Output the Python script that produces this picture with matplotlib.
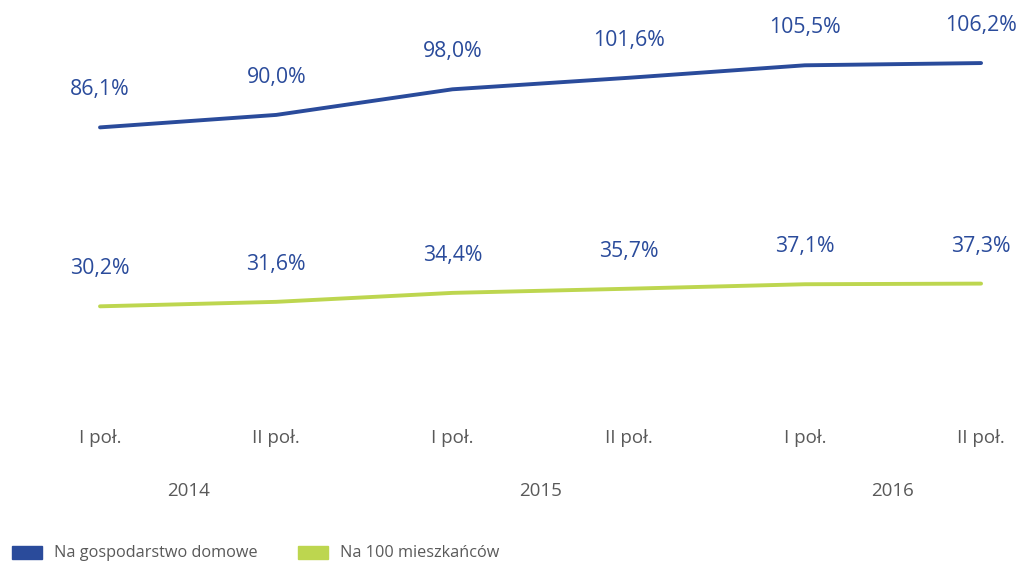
import numpy as np
import matplotlib.pyplot as plt
from matplotlib.patches import Rectangle
from matplotlib.transforms import blended_transform_factory

# data
periods = ['I poł.', 'II poł.', 'I poł.', 'II poł.', 'I poł.', 'II poł.']
years = ['2014', '2015', '2016']
household = [86.1, 90.0, 98.0, 101.6, 105.5, 106.2]
per_100 = [30.2, 31.6, 34.4, 35.7, 37.1, 37.3]

blue = '#2a4b9b'
green = '#bdd64f'
gray = '#595959'

plt.rcParams['font.family'] = ['Open Sans', 'DejaVu Sans']

fig = plt.figure(figsize=(10.23, 5.66), dpi=100)
ax = fig.add_axes([0, 0.288, 1, 0.712])
x = np.arange(len(periods))

ax.plot(x, household, color=blue, lw=2.8, solid_capstyle='round')
ax.plot(x, per_100, color=green, lw=2.8, solid_capstyle='round')

def fmt(v):
    return f'{v:.1f}%'.replace('.', ',')

for xi, v in zip(x, household):
    ax.annotate(fmt(v), (xi, v), xytext=(0, 27), textcoords='offset points',
                ha='center', va='center', fontsize=15.3, color=blue)
for xi, v in zip(x, per_100):
    ax.annotate(fmt(v), (xi, v), xytext=(0, 27), textcoords='offset points',
                ha='center', va='center', fontsize=15.3, color=blue)

ax.set_xlim(-0.5675, 5.238)
ax.set_ylim(0, 125.9)
ax.axis('off')

trans = blended_transform_factory(ax.transData, fig.transFigure)
for xi, p in zip(x, periods):
    ax.text(xi, 1 - 438 / 566, p, transform=trans, ha='center', va='center',
            fontsize=13.5, color=gray)
for i, y in enumerate(years):
    ax.text(2 * i + 0.5, 1 - 491 / 566, y, transform=trans, ha='center', va='center',
            fontsize=13.5, color=gray)

# legend
W, H = 1023, 566
for px, col, lab in [(12, blue, 'Na gospodarstwo domowe'), (298, green, 'Na 100 mieszkańców')]:
    fig.add_artist(Rectangle((px / W, 1 - 559 / H), 30 / W, 13 / H,
                             transform=fig.transFigure, color=col))
    fig.text((px + 42) / W, 1 - 553 / H, lab, ha='left', va='center',
             fontsize=11.7, color=gray)

fig.savefig('out.png', dpi=100)
